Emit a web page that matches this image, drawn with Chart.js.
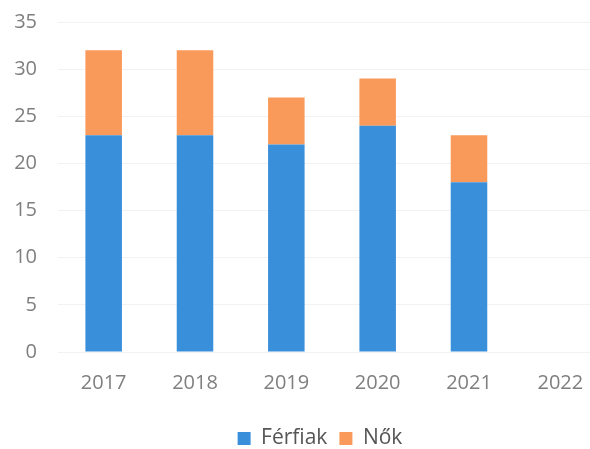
<!DOCTYPE html>
<html>
<head>
<meta charset="utf-8">
<script src="https://cdn.jsdelivr.net/npm/chart.js@4/dist/chart.umd.min.js"></script>
<style>
html,body{margin:0;padding:0;background:#fff;overflow:hidden;}
#wrap{position:absolute;left:0;top:0;width:646px;height:449px;}
</style>
</head>
<body>
<div id="wrap"><canvas id="c"></canvas></div>
<script>
const categories = ['2017','2018','2019','2020','2021','2022'];
const ferfiak = [23, 23, 22, 24, 18, null];
const nok = [9, 9, 5, 5, 5, null];
const yTicks = [0, 5, 10, 15, 20, 25, 30, 35];

const FONT = '"Open Sans", "DejaVu Sans", sans-serif';
const shiftLegend = {
  id: 'shiftLegend',
  afterLayout(chart) {
    const lg = chart.legend;
    if (lg) { lg.left += 17; lg.right += 17; }
  }
};
new Chart(document.getElementById('c'), {
  type: 'bar',
  data: {
    labels: categories,
    datasets: [
      { label: 'Férfiak', data: ferfiak, backgroundColor: '#3a8fdb', barPercentage: 0.8, categoryPercentage: 0.5 },
      { label: 'Nők', data: nok, backgroundColor: '#f99a5b', barPercentage: 0.8, categoryPercentage: 0.5 }
    ]
  },
  plugins: [shiftLegend],
  options: {
    responsive: true,
    maintainAspectRatio: false,
    animation: false,
    layout: { padding: { top: 22, right: 40, left: 0, bottom: -10 } },
    plugins: {
      tooltip: { enabled: false },
      legend: {
        position: 'bottom',
        labels: {
          boxWidth: 13, boxHeight: 13, padding: 12,
          color: '#555555',
          font: { family: FONT, size: 21 }
        }
      }
    },
    scales: {
      x: {
        stacked: true,
        afterFit: (s) => { s.height = 64; },
        grid: { display: false, drawTicks: false },
        border: { display: false },
        ticks: { color: '#7f7f7f', padding: 19, font: { family: FONT, size: 20 } }
      },
      y: {
        stacked: true,
        min: 0, max: 35,
        afterBuildTicks: (s) => { s.ticks = yTicks.map(v => ({ value: v })); },
        afterFit: (s) => { s.width = 58; },
        grid: { color: 'rgba(0,0,0,0.05)', drawTicks: true, tickLength: 18, tickColor: 'rgba(0,0,0,0)' },
        border: { display: false },
        ticks: { color: '#7f7f7f', padding: 3, font: { family: FONT, size: 20 } }
      }
    }
  }
});
</script>
</body>
</html>
